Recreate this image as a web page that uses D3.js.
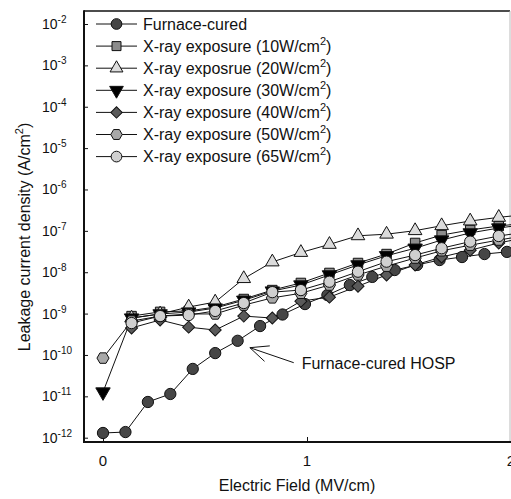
<!DOCTYPE html>
<html>
<head>
<meta charset="utf-8">
<script src="https://cdn.jsdelivr.net/npm/d3@7"></script>
<style>
body{margin:0;background:#fff;overflow:hidden}
text{font-family:"Liberation Sans",Arial,sans-serif;fill:#111}
</style>
</head>
<body>
<div id="chart"></div>
<script>
// electric field (MV/cm), last value lies just past the cropped right edge
const furnaceField = [0,0.11,0.22,0.33,0.44,0.55,0.66,0.77,0.88,0.99,1.10,1.21,1.32,1.43,1.54,1.65,1.76,1.87,1.98,2.09]
const xrayField = [0,0.14,0.28,0.42,0.55,0.69,0.83,0.97,1.11,1.25,1.39,1.53,1.66,1.80,1.94,2.08]

// leakage current density (A/cm2), null = not measured
const furnaceJ = [1.3e-12,1.37e-12,7.3e-12,1.14e-11,4.6e-11,1.11e-10,2.2e-10,5.0e-10,9.5e-10,1.7e-9,2.8e-9,4.9e-9,7.7e-9,1.13e-8,1.5e-8,1.97e-8,2.33e-8,2.75e-8,3.1e-8,3.4e-8]
const xray10J = [null,8.7e-10,1.1e-9,1.16e-9,1.44e-9,2.25e-9,3.7e-9,5.5e-9,9.6e-9,1.67e-8,2.75e-8,5.1e-8,7.9e-8,1.05e-7,1.31e-7,1.55e-7]
const xray20J = [null,7.8e-10,9.8e-10,1.44e-9,1.9e-9,7.0e-9,1.77e-8,3.0e-8,4.7e-8,7.6e-8,8.3e-8,1.01e-7,1.33e-7,1.73e-7,2.12e-7,2.5e-7]
const xray30J = [1.27e-11,7.8e-10,9.8e-10,1.09e-9,1.36e-9,2.1e-9,3.5e-9,4.9e-9,8.6e-9,1.5e-8,2.5e-8,3.8e-8,6.0e-8,8.9e-8,1.17e-7,1.45e-7]
const xray40J = [null,4.5e-10,7.0e-10,4.7e-10,4.0e-10,8.7e-10,7.8e-10,2.0e-9,2.5e-9,4.6e-9,8.6e-9,1.5e-8,2.33e-8,3.4e-8,5.1e-8,7.0e-8]
const xray50J = [8.4e-11,6.6e-10,8.7e-10,9.8e-10,9.8e-10,1.6e-9,2.4e-9,3.1e-9,4.9e-9,8.6e-9,1.4e-8,2.2e-8,3.3e-8,4.5e-8,6.0e-8,7.8e-8]
const xray65J = [null,5.9e-10,8.7e-10,9.2e-10,1.16e-9,1.8e-9,3.3e-9,3.7e-9,5.9e-9,1.03e-8,1.8e-8,2.6e-8,3.8e-8,5.5e-8,7.5e-8,9.5e-8]

const legendLabels = ["Furnace-cured","X-ray exposure (10W/cm","X-ray exposrue (20W/cm","X-ray exposure (30W/cm","X-ray exposure (40W/cm","X-ray exposure (50W/cm","X-ray exposure (65W/cm"]
const yTickExps = [-2,-3,-4,-5,-6,-7,-8,-9,-10,-11,-12]
const xTicks = [0,1,2]

const symbolHex = {draw(ctx,size){
    const r = Math.sqrt(size/2.6)
    for(let i=0;i<6;i++){
        const a = Math.PI/3*i
        i ? ctx.lineTo(r*Math.cos(a),r*Math.sin(a)) : ctx.moveTo(r*Math.cos(a),r*Math.sin(a))
    }
    ctx.closePath()
}}

const series = [
    {field:furnaceField, vals:furnaceJ, sym:d3.symbolCircle, size:100, rot:0, fill:"#464646"},
    {field:xrayField, vals:xray10J, sym:d3.symbolSquare, size:90, rot:0, fill:"#8c8c8c"},
    {field:xrayField, vals:xray20J, sym:d3.symbolTriangle, size:80, rot:0, fill:"#dcdcdc"},
    {field:xrayField, vals:xray30J, sym:d3.symbolTriangle, size:90, rot:180, fill:"#000"},
    {field:xrayField, vals:xray40J, sym:d3.symbolSquare, size:72, rot:45, fill:"#5a5a5a"},
    {field:xrayField, vals:xray50J, sym:symbolHex, size:95, rot:0, fill:"#a8a8a8"},
    {field:xrayField, vals:xray65J, sym:d3.symbolCircle, size:100, rot:0, fill:"#d0d0d0"}
]

const canvas = {width:511, height:499, left:84, right:510, top:11, bottom:442}

const svg = d3.select("#chart").append("svg")
    .attr("width",canvas.width).attr("height",canvas.height)

const x = d3.scaleLinear().domain([0,2]).range([103,511])
const y = d3.scaleLog().domain([1e-2,1e-12]).range([24,437.7])

// frame
svg.append("line").attr("x1",canvas.left).attr("x2",canvas.right).attr("y1",canvas.top).attr("y2",canvas.top)
    .attr("stroke","#111").attr("stroke-width",1.5)
svg.append("line").attr("x1",canvas.right).attr("x2",canvas.right).attr("y1",canvas.top).attr("y2",canvas.bottom)
    .attr("stroke","#bbb").attr("stroke-width",1)

// ticks
const yAxis = svg.append("g").attr("transform",`translate(${canvas.left},0)`)
    .call(d3.axisRight(y).tickValues(yTickExps.map(e => Math.pow(10,e))).tickSize(4).tickFormat(""))
yAxis.select(".domain").remove()
yAxis.selectAll("line").attr("stroke","#111")

const xAxis = svg.append("g").attr("transform",`translate(0,${canvas.bottom})`)
    .call(d3.axisTop(x).tickValues(xTicks).tickSize(5).tickFormat(""))
xAxis.select(".domain").remove()
xAxis.selectAll("line").attr("stroke","#111")

svg.append("line").attr("x1",canvas.left).attr("x2",canvas.left).attr("y1",canvas.top-0.7).attr("y2",canvas.bottom+1)
    .attr("stroke","#111").attr("stroke-width",2)
svg.append("line").attr("x1",canvas.left).attr("x2",canvas.width).attr("y1",canvas.bottom).attr("y2",canvas.bottom)
    .attr("stroke","#111").attr("stroke-width",2)

// tick labels
yTickExps.forEach(e => {
    const t = svg.append("text").attr("x",42).attr("y",y(Math.pow(10,e))+5).attr("font-size",14)
    t.append("tspan").text("10")
    t.append("tspan").attr("dy",-6).attr("font-size",10).text(e)
})
xTicks.forEach(v => {
    svg.append("text").attr("x",x(v)).attr("y",466).attr("text-anchor","middle").attr("font-size",15).text(v)
})

// axis titles
svg.append("text").attr("x",297).attr("y",491).attr("text-anchor","middle").attr("font-size",16)
    .text("Electric Field (MV/cm)")
const yt = svg.append("text").attr("transform","translate(30,237) rotate(-90)").attr("text-anchor","middle").attr("font-size",16)
yt.append("tspan").text("Leakage current density (A/cm")
yt.append("tspan").attr("dy",-7).attr("font-size",11).text("2")
yt.append("tspan").attr("dy",7).text(")")

// series
series.forEach(s => {
    const pts = s.vals.map((v,i) => ({e:s.field[i], j:v})).filter(d => d.j != null)
    const line = d3.line().x(d => x(d.e)).y(d => y(d.j))
    svg.append("path").datum(pts).attr("fill","none").attr("stroke","#111").attr("stroke-width",1).attr("d",line)
})
series.forEach(s => {
    const pts = s.vals.map((v,i) => ({e:s.field[i], j:v})).filter(d => d.j != null)
    svg.append("g").selectAll("path").data(pts).join("path")
        .attr("d",d3.symbol(s.sym,s.size))
        .attr("transform",d => `translate(${x(d.e)},${y(d.j)}) rotate(${s.rot})`)
        .attr("fill",s.fill).attr("stroke","#111").attr("stroke-width",1)
})

// legend
series.forEach((s,i) => {
    const ly = 24 + i*22.1
    svg.append("line").attr("x1",96).attr("x2",137).attr("y1",ly).attr("y2",ly).attr("stroke","#111").attr("stroke-width",1)
    svg.append("path").attr("d",d3.symbol(s.sym,s.size*0.9))
        .attr("transform",`translate(116.5,${ly}) rotate(${s.rot})`)
        .attr("fill",s.fill).attr("stroke","#111").attr("stroke-width",1)
    const t = svg.append("text").attr("x",143).attr("y",ly+5.5).attr("font-size",16)
    t.append("tspan").text(legendLabels[i])
    if(i > 0){
        t.append("tspan").attr("dy",-7).attr("font-size",11).text("2")
        t.append("tspan").attr("dy",7).text(")")
    }
})

// annotation with arrow
const tip = [x(0.72), y(1.5e-10)]
const tail = [x(0.935), y(6.5e-11)]
svg.append("line").attr("x1",tail[0]).attr("y1",tail[1]).attr("x2",tip[0]).attr("y2",tip[1])
    .attr("stroke","#111").attr("stroke-width",1)
const ang = Math.atan2(tail[1]-tip[1], tail[0]-tip[0])
;[-0.42,0.42].forEach(da => {
    svg.append("line").attr("x1",tip[0]).attr("y1",tip[1])
        .attr("x2",tip[0]+20*Math.cos(ang+da)).attr("y2",tip[1]+20*Math.sin(ang+da))
        .attr("stroke","#111").attr("stroke-width",1)
})
svg.append("text").attr("x",x(0.974)).attr("y",y(4.6e-11)).attr("font-size",16).text("Furnace-cured HOSP")
</script>
</body>
</html>
